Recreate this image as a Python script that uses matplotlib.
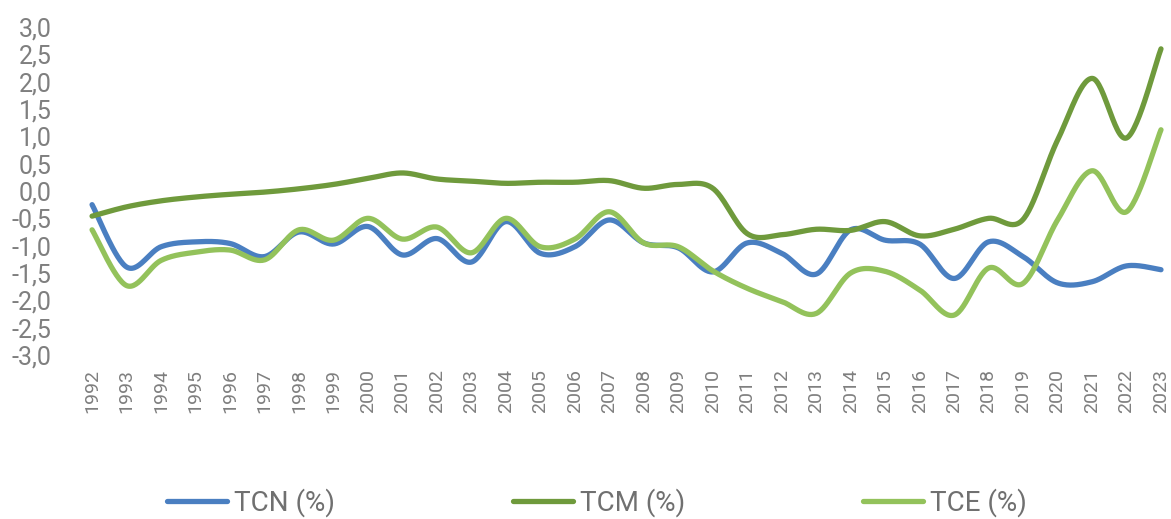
import numpy as np
import matplotlib.pyplot as plt
from matplotlib.ticker import FuncFormatter

# yearly rates
years = list(range(1992, 2024))

tcn = [-0.25, -1.39, -1.02, -0.93, -0.96, -1.2, -0.75, -0.97, -0.65, -1.17,
       -0.87, -1.3, -0.56, -1.14, -1.02, -0.53, -0.95, -1.04, -1.48, -0.95,
       -1.14, -1.52, -0.71, -0.9, -0.97, -1.6, -0.93, -1.2, -1.68, -1.66,
       -1.37, -1.44]

tcm = [-0.46, -0.29, -0.18, -0.11, -0.06, -0.02, 0.04, 0.12, 0.23, 0.33,
       0.22, 0.18, 0.14, 0.16, 0.16, 0.19, 0.05, 0.12, 0.05, -0.78,
       -0.8, -0.7, -0.72, -0.56, -0.82, -0.7, -0.5, -0.52, 0.93, 2.06,
       0.97, 2.6]

tce = [-0.71, -1.73, -1.27, -1.12, -1.08, -1.26, -0.71, -0.9, -0.5, -0.88,
       -0.66, -1.13, -0.5, -1.02, -0.88, -0.38, -0.95, -1.02, -1.46, -1.78,
       -2.02, -2.24, -1.5, -1.47, -1.81, -2.27, -1.41, -1.69, -0.53, 0.37,
       -0.38, 1.12]

series_names = ['TCN (%)', 'TCM (%)', 'TCE (%)']
series_colors = ['#4a7fc1', '#6f9a3c', '#93c25b']


def smooth(xs, ys, n=30):
    # catmull-rom through the points, roughly what a "smoothed line" does
    x = np.asarray(xs, dtype=float)
    y = np.asarray(ys, dtype=float)
    px = np.concatenate([[x[0]], x, [x[-1]]])
    py = np.concatenate([[y[0]], y, [y[-1]]])
    out_x, out_y = [], []
    t = np.linspace(0, 1, n, endpoint=False)
    for i in range(1, len(px) - 2):
        for p, out in ((px, out_x), (py, out_y)):
            p0, p1, p2, p3 = p[i - 1], p[i], p[i + 1], p[i + 2]
            seg = 0.5 * ((2 * p1) + (-p0 + p2) * t
                         + (2 * p0 - 5 * p1 + 4 * p2 - p3) * t ** 2
                         + (-p0 + 3 * p1 - 3 * p2 + p3) * t ** 3)
            out.extend(seg)
    out_x.append(x[-1])
    out_y.append(y[-1])
    return np.array(out_x), np.array(out_y)


plt.rcParams['font.family'] = ['Roboto', 'DejaVu Sans']

fig = plt.figure(figsize=(11.71, 5.19), dpi=100)
ax = fig.add_axes([60 / 1171, 1 - 355 / 519, 1 - 60 / 1171, 328 / 519])

for vals, name, col in zip([tcn, tcm, tce], series_names, series_colors):
    sx, sy = smooth(years, vals)
    ax.plot(sx, sy, color=col, lw=3.8, label=name, solid_capstyle='round')

ax.set_ylim(-3, 3)
ax.set_xlim(1991.07, 2023.29)
ax.set_yticks(np.arange(-3, 3.01, 0.5))
ax.yaxis.set_major_formatter(FuncFormatter(lambda v, p: f'{v:.1f}'.replace('.', ',')))
ax.set_xticks(years)
ax.set_xticklabels([str(y) for y in years], rotation=90)

ax.tick_params(axis='y', length=0, pad=6, labelsize=18, labelcolor='#7f7f7f')
ax.tick_params(axis='x', length=0, pad=10, labelsize=14, labelcolor='#7f7f7f')
for s in ax.spines.values():
    s.set_visible(False)

fig.legend(loc='center', bbox_to_anchor=(0.51, 0.031), ncol=3, frameon=False,
           fontsize=20, handlelength=2.16, handletextpad=0.25, columnspacing=6.4,
           labelcolor='#707070')

plt.savefig('out.png', dpi=100)
